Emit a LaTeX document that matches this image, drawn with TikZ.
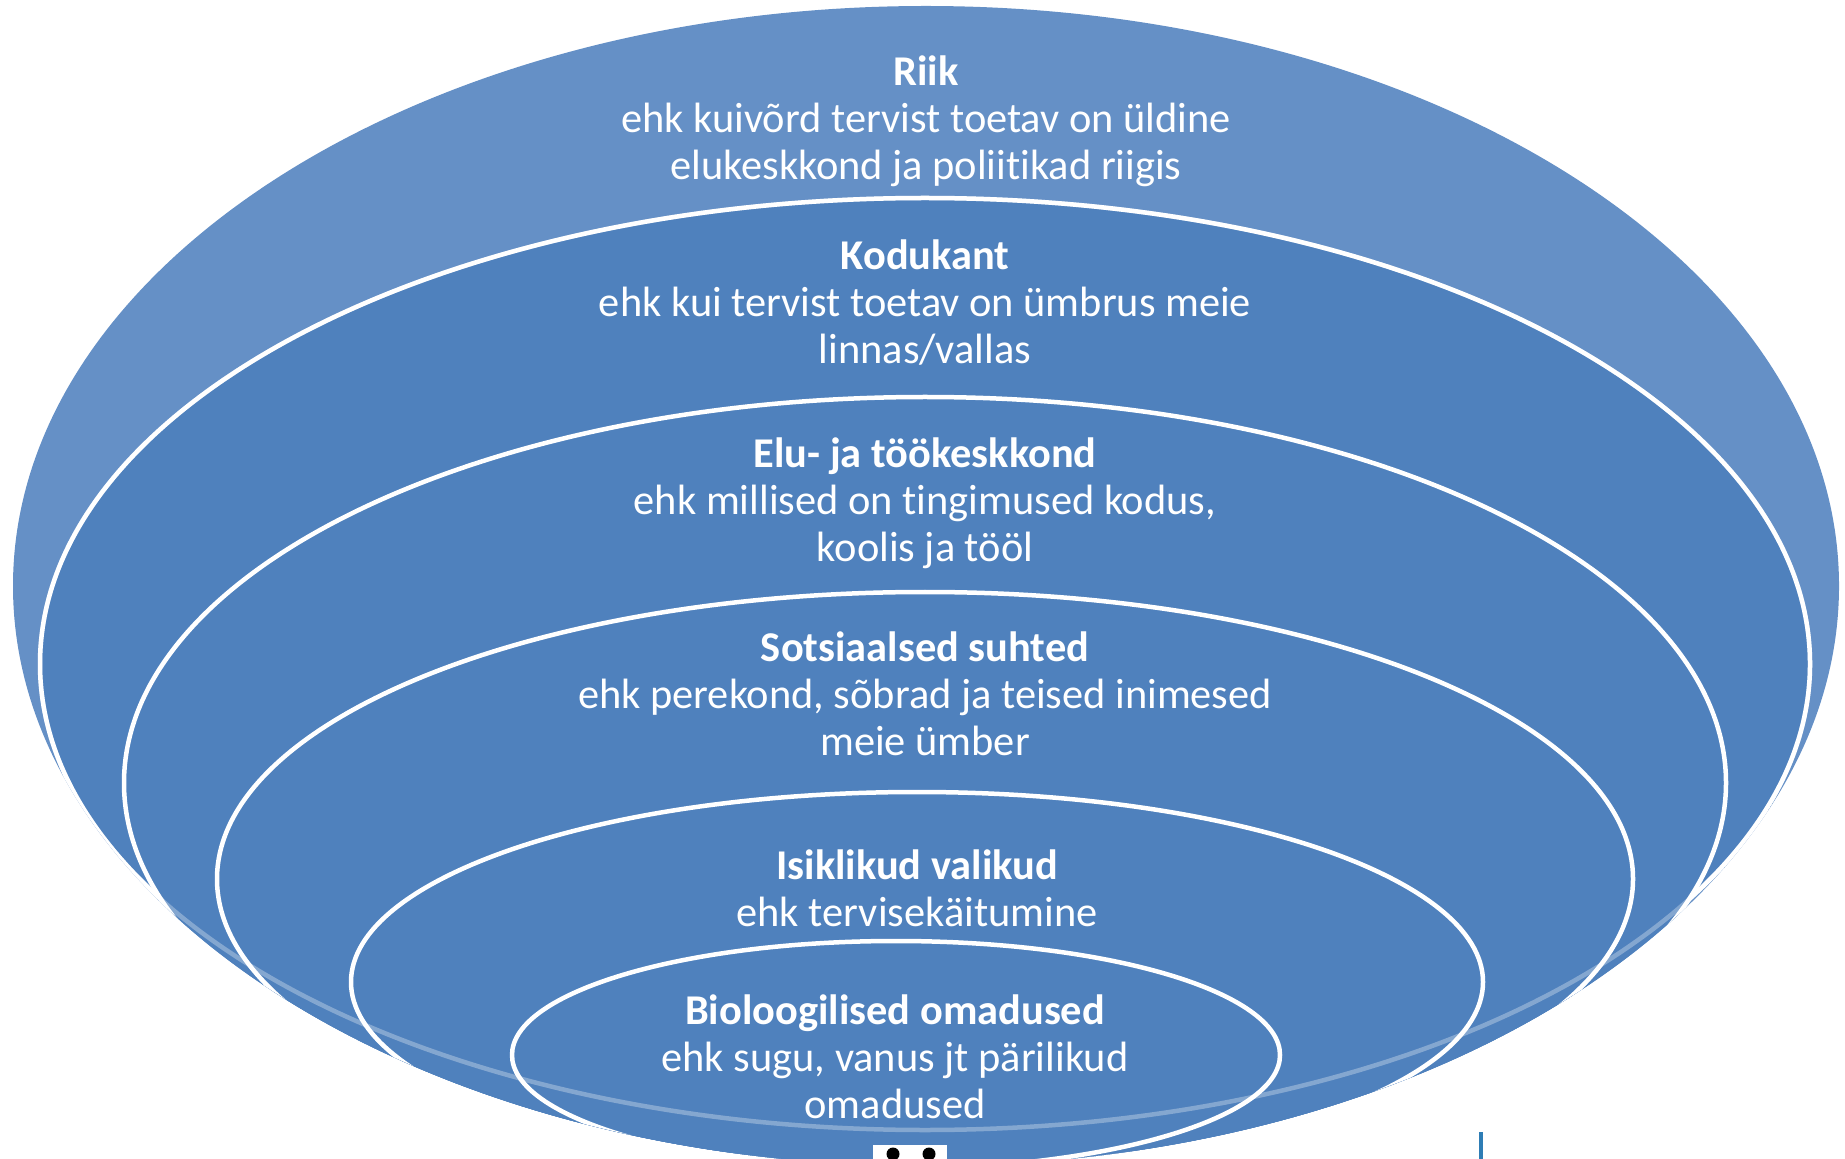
\documentclass[tikz,border=0pt]{standalone}
\usepackage{fontspec}
\setmainfont{Carlito}[Ligatures=NoCommon]
\usepackage{tikz}
\definecolor{ringblue}{HTML}{4F81BD}
\definecolor{outerblue}{HTML}{6590C6}
\definecolor{pinblue}{HTML}{2E7DB5}

\begin{document}
\begin{tikzpicture}[
  x=0.5pt, y=-0.5pt,
  ring/.style={fill=ringblue, draw=white, line width=2.25pt},
  ghost/.style={draw=white, draw opacity=0.3, line width=2.25pt},
  ringtext/.style={text=white, align=center, inner sep=0pt, font=\fontsize{21.2}{23.5}\selectfont},
]
  \useasboundingbox (0,0) rectangle (1845,1159);
  \clip (0,0) rectangle (1845,1159);

  % outer layer
  \fill[outerblue] (926,586) ellipse [x radius=913, y radius=580];
  \begin{scope}
    \clip (926,586) ellipse [x radius=913, y radius=580];
    \filldraw[ring] (925,664) ellipse [x radius=885, y radius=466];
    \filldraw[ring] (925,783) ellipse [x radius=801, y radius=386];
    \filldraw[ring] (925,879) ellipse [x radius=708, y radius=287];
    \filldraw[ring] (917,982) ellipse [x radius=566, y radius=190];
    \filldraw[ring] (896,1055) ellipse [x radius=384, y radius=114];
    \draw[ghost] (925,664) ellipse [x radius=885, y radius=466];
  \end{scope}

  \node[ringtext] (riik) at (926,121) {\textbf{Riik}\\ehk kuivõrd tervist toetav on üldine\\elukeskkond ja poliitikad riigis};
  \node[ringtext] (kodukant) at (925,303) {\textbf{Kodukant}\\ehk kui tervist toetav on ümbrus meie\\linnas/vallas};
  \node[ringtext] (elu) at (925,503) {\textbf{Elu- ja töökeskkond}\\ehk millised on tingimused kodus,\\koolis ja tööl};
  \node[ringtext] (suhted) at (925,694) {\textbf{Sotsiaalsed suhted}\\ehk perekond, sõbrad ja teised inimesed\\meie ümber};
  \node[ringtext] (valikud) at (917,888) {\textbf{Isiklikud valikud}\\ehk tervisekäitumine};
  \node[ringtext] (bio) at (895,1057) {\textbf{Bioloogilised omadused}\\ehk sugu, vanus jt pärilikud\\omadused};

  % cut-off bits at the lower edge
  \fill[white] (873,1145) rectangle (947,1165);
  \fill[black] (893,1154) circle [radius=6.5];
  \fill[black] (929,1154) circle [radius=6.5];
  \draw[pinblue, line width=2pt] (1481,1132) -- (1481,1165);
\end{tikzpicture}
\end{document}
